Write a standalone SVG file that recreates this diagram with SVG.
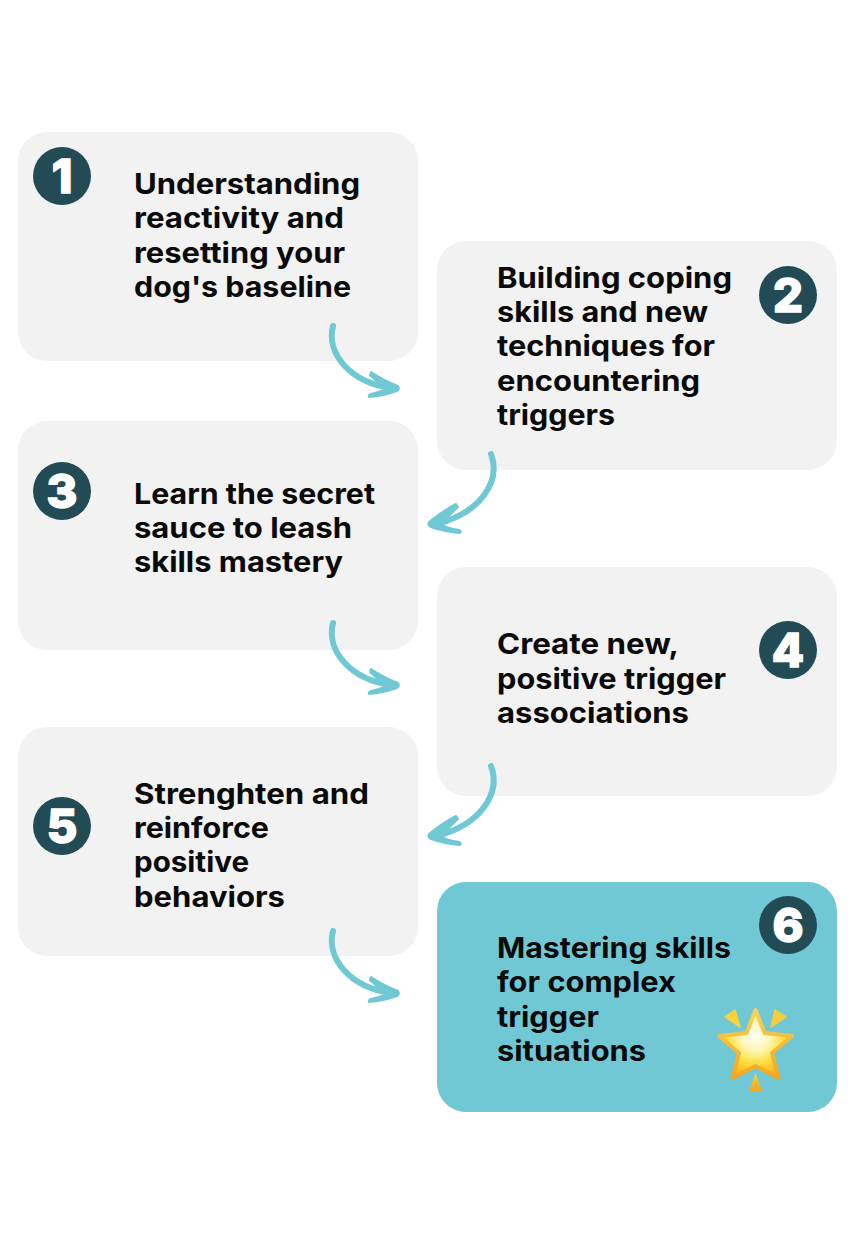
<svg xmlns="http://www.w3.org/2000/svg" width="851" height="1233" viewBox="0 0 851 1233">
<style>
.box{fill:#f2f2f2}
.final{fill:#70c8d4}
.badge{fill:#234b56}
.num{fill:#fff;font-family:"Inter","Liberation Sans",sans-serif;font-weight:800;font-size:47px;text-anchor:middle;stroke:#fff;stroke-width:1.5px}
.t{fill:#0a0a0a;font-family:"Inter","Open Sans",sans-serif;font-weight:650;font-size:28.500px}
.shaft{fill:none;stroke:#70c8d4;stroke-width:6px;stroke-linecap:round}
.head{fill:#70c8d4;stroke:#70c8d4;stroke-width:2px;stroke-linejoin:round}
</style>
<defs>
<g id="arrowR">
<path class="shaft" d="M333 326C326 353 350 383 392 388"/>
<path class="head" d="M371 372Q385 381 398 386Q400 389 397 391Q383 396 369 397Q368 395 371 394Q380 392 387 389Q378 383 370 375Z"/>
</g>
<g id="arrowL">
<path class="shaft" d="M491 454C501 481 481 513 436 524"/>
<path class="head" d="M456 504Q441 512 429 522Q427 525 431 527Q445 532 460 533Q462 531 459 530Q447 528 440 524Q449 516 458 507Z"/>
</g>
<radialGradient id="starG" gradientUnits="userSpaceOnUse" cx="755.500" cy="1036" r="42">
<stop offset="0" stop-color="#fffef2"/><stop offset=".35" stop-color="#fff6b8"/><stop offset=".65" stop-color="#fddf3f"/><stop offset="1" stop-color="#f6b021"/>
</radialGradient>
<linearGradient id="edgeG" gradientUnits="userSpaceOnUse" x1="755" y1="1008" x2="755" y2="1082">
<stop offset="0" stop-color="#f9d25a"/><stop offset="1" stop-color="#f3a31c"/>
</linearGradient>
<linearGradient id="sparkG" x1="0" y1="0" x2="0" y2="1">
<stop offset="0" stop-color="#fbd33f"/><stop offset="1" stop-color="#f3a51f"/>
</linearGradient>
</defs>

<g id="node-1">
<rect class="box" x="18" y="132" width="400" height="229" rx="29"/>
<circle class="badge" cx="62" cy="176" r="29"/>
<text class="num" x="62" y="193">1</text>
<text class="t" x="134" y="194" textLength="226" lengthAdjust="spacingAndGlyphs">Understanding</text>
<text class="t" x="134" y="228" textLength="210" lengthAdjust="spacingAndGlyphs">reactivity and</text>
<text class="t" x="134" y="263" textLength="211" lengthAdjust="spacingAndGlyphs">resetting your</text>
<text class="t" x="134" y="297" textLength="217" lengthAdjust="spacingAndGlyphs">dog's baseline</text>
</g>
<g id="node-2">
<rect class="box" x="437" y="241" width="400" height="229" rx="29"/>
<circle class="badge" cx="788" cy="295" r="29"/>
<text class="num" x="788" y="312">2</text>
<text class="t" x="497" y="288" textLength="235" lengthAdjust="spacingAndGlyphs">Building coping</text>
<text class="t" x="497" y="322" textLength="211" lengthAdjust="spacingAndGlyphs">skills and new</text>
<text class="t" x="497" y="356" textLength="218" lengthAdjust="spacingAndGlyphs">techniques for</text>
<text class="t" x="497" y="391" textLength="203" lengthAdjust="spacingAndGlyphs">encountering</text>
<text class="t" x="497" y="425" textLength="118" lengthAdjust="spacingAndGlyphs">triggers</text>
</g>
<g id="node-3">
<rect class="box" x="18" y="421" width="400" height="229" rx="29"/>
<circle class="badge" cx="62" cy="491" r="29"/>
<text class="num" x="62" y="508">3</text>
<text class="t" x="134" y="504" textLength="241" lengthAdjust="spacingAndGlyphs">Learn the secret</text>
<text class="t" x="134" y="538" textLength="218" lengthAdjust="spacingAndGlyphs">sauce to leash</text>
<text class="t" x="134" y="572" textLength="209" lengthAdjust="spacingAndGlyphs">skills mastery</text>
</g>
<g id="node-4">
<rect class="box" x="437" y="567" width="400" height="229" rx="29"/>
<circle class="badge" cx="788" cy="650" r="29"/>
<text class="num" x="788" y="667">4</text>
<text class="t" x="497" y="654" textLength="182" lengthAdjust="spacingAndGlyphs">Create new,</text>
<text class="t" x="497" y="689" textLength="229" lengthAdjust="spacingAndGlyphs">positive trigger</text>
<text class="t" x="497" y="723" textLength="192" lengthAdjust="spacingAndGlyphs">associations</text>
</g>
<g id="node-5">
<rect class="box" x="18" y="727" width="400" height="229" rx="29"/>
<circle class="badge" cx="62" cy="826" r="29"/>
<text class="num" x="62" y="843">5</text>
<text class="t" x="134" y="804" textLength="235" lengthAdjust="spacingAndGlyphs">Strenghten and</text>
<text class="t" x="134" y="838" textLength="135" lengthAdjust="spacingAndGlyphs">reinforce</text>
<text class="t" x="134" y="872" textLength="115" lengthAdjust="spacingAndGlyphs">positive</text>
<text class="t" x="134" y="907" textLength="151" lengthAdjust="spacingAndGlyphs">behaviors</text>
</g>
<g id="node-6">
<rect class="final" x="437" y="882" width="400" height="230" rx="29"/>
<circle class="badge" cx="788" cy="925" r="29"/>
<text class="num" x="788" y="942">6</text>
<text class="t" x="497" y="958" textLength="234" lengthAdjust="spacingAndGlyphs">Mastering skills</text>
<text class="t" x="497" y="992" textLength="179" lengthAdjust="spacingAndGlyphs">for complex</text>
<text class="t" x="497" y="1027" textLength="102" lengthAdjust="spacingAndGlyphs">trigger</text>
<text class="t" x="497" y="1061" textLength="149" lengthAdjust="spacingAndGlyphs">situations</text>
<g id="star">
<path d="M755.500 1010L764.500 1033L792 1036L772 1053L778.500 1078L755.500 1066L732.500 1078L739 1053L719 1036L746.500 1033Z" fill="url(#starG)" stroke="url(#edgeG)" stroke-width="4" stroke-linejoin="round"/>
<path d="M725 1017L735 1010L740 1027Z" fill="#f8d33c" stroke="#f8d33c" stroke-width="1.500" stroke-linejoin="round"/>
<path d="M775 1010L786 1017L771 1027Z" fill="#f6cd3c" stroke="#f6cd3c" stroke-width="1.500" stroke-linejoin="round"/>
<path d="M755.500 1073L762 1091H749Z" fill="url(#sparkG)"/>
</g>
</g>

<g id="connectors">
<use href="#arrowR"/>
<use href="#arrowL"/>
<use href="#arrowR" y="297"/>
<use href="#arrowL" y="312"/>
<use href="#arrowR" y="605"/>
</g>
</svg>
